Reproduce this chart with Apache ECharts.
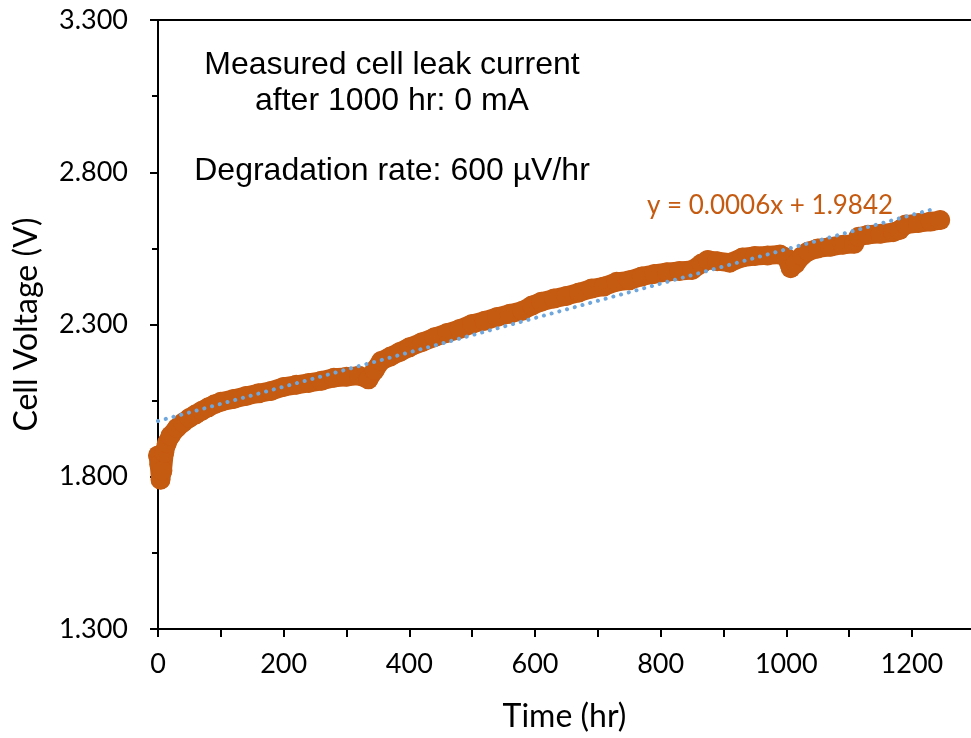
<!DOCTYPE html>
<html>
<head>
<meta charset="utf-8">
<script src="https://cdn.jsdelivr.net/npm/echarts@6/dist/echarts.min.js"></script>
<style>
  html, body { margin: 0; padding: 0; background: #fff; }
  #chart { width: 971px; height: 738px; }
</style>
</head>
<body>
<div id="chart"></div>
<script>
// time (hr) and cell voltage (V)
const timeHr = [0, 2, 4, 7, 10, 14, 20, 30, 40, 50, 60, 70, 80, 90, 100, 120, 140, 160, 180, 200,
  220, 240, 260, 280, 300, 320, 335, 345, 355, 370, 385, 400, 420, 440, 460, 480, 500, 520, 540, 560,
  580, 595, 610, 630, 650, 670, 690, 710, 730, 750, 770, 790, 810, 830, 850, 865, 875, 890, 910, 930,
  950, 970, 990, 1000, 1007, 1015, 1025, 1035, 1050, 1070, 1090, 1108, 1115, 1130, 1150, 1170, 1180,
  1190, 1210, 1230, 1245];
const cellVolt = [1.87, 1.84, 1.79, 1.82, 1.88, 1.91, 1.935, 1.96, 1.978, 1.993, 2.005, 2.017, 2.028, 2.038, 2.046, 2.055, 2.065, 2.074, 2.082, 2.095,
  2.102, 2.108, 2.115, 2.125, 2.128, 2.132, 2.12, 2.15, 2.18, 2.195, 2.21, 2.225, 2.242, 2.258, 2.272, 2.285, 2.302, 2.312, 2.325, 2.335,
  2.345, 2.362, 2.375, 2.385, 2.394, 2.405, 2.418, 2.425, 2.44, 2.445, 2.458, 2.466, 2.472, 2.476, 2.479, 2.50, 2.512, 2.508, 2.503, 2.52,
  2.525, 2.527, 2.53, 2.52, 2.485, 2.50, 2.525, 2.54, 2.55, 2.555, 2.562, 2.565, 2.588, 2.595, 2.598, 2.603, 2.61,
  2.628, 2.633, 2.638, 2.643];

// linear trendline end points
const trendX = [0, 1234];
const trendY = [1.983, 2.679];

const yTicks = [1.3, 3.3];
const xRange = [0, 1294];

const notes = ['Measured cell leak current', 'after 1000 hr: 0 mA', 'Degradation rate: 600 \u00b5V/hr'];
const equation = 'y = 0.0006x + 1.9842';

const orange = '#C55A11';
const blue = '#6FA6DC';
const tickFont = 'Lato';

const chart = echarts.init(document.getElementById('chart'));

const option = {
  backgroundColor: '#fff',
  animation: false,
  grid: { left: 158, right: 0, top: 20, bottom: 109 },
  xAxis: [
    {
      type: 'value',
      min: xRange[0],
      max: xRange[1],
      interval: 100,
      name: 'Time (hr)',
      nameLocation: 'middle',
      nameGap: 72,
      nameTextStyle: { fontFamily: tickFont, fontSize: 32, color: '#000' },
      axisLine: { onZero: false, lineStyle: { color: '#000', width: 2 } },
      axisTick: { length: 8, lineStyle: { color: '#000', width: 2 } },
      axisLabel: {
        margin: 22,
        fontFamily: tickFont,
        fontSize: 27,
        color: '#000',
        showMaxLabel: false,
        formatter: v => (v % 200 === 0 && v <= 1200 ? String(v) : '')
      },
      splitLine: { show: false }
    },
    {
      type: 'value',
      position: 'top',
      min: xRange[0],
      max: xRange[1],
      axisLine: { show: true, onZero: false, lineStyle: { color: '#000', width: 2 } },
      axisTick: { show: false },
      axisLabel: { show: false },
      splitLine: { show: false }
    }
  ],
  yAxis: {
    type: 'value',
    min: yTicks[0],
    max: yTicks[1],
    interval: 0.5,
    name: 'Cell Voltage (V)',
    nameLocation: 'middle',
    nameGap: 115,
    nameTextStyle: { fontFamily: tickFont, fontSize: 32, color: '#000' },
    axisLine: { show: true, lineStyle: { color: '#000', width: 2 } },
    axisTick: { length: 8, lineStyle: { color: '#000', width: 2 } },
    minorTick: { show: true, splitNumber: 2, length: 6, lineStyle: { color: '#000', width: 2 } },
    axisLabel: {
      margin: 30,
      fontFamily: tickFont,
      fontSize: 27,
      color: '#000',
      formatter: v => v.toFixed(3)
    },
    splitLine: { show: false }
  },
  series: [
    {
      type: 'line',
      xAxisIndex: 0,
      data: timeHr.map((t, i) => [t, cellVolt[i]]),
      symbol: 'circle',
      symbolSize: 20,
      showSymbol: true,
      itemStyle: { color: orange },
      lineStyle: { color: orange, width: 19, cap: 'round', join: 'round' },
      z: 2
    },
    {
      type: 'line',
      xAxisIndex: 0,
      data: trendX.map((t, i) => [t, trendY[i]]),
      symbol: 'none',
      lineStyle: { color: blue, width: 4, type: [0.1, 7.9], cap: 'round' },
      z: 3
    }
  ],
  graphic: [
    ...notes.map((txt, i) => ({
      type: 'text',
      x: 392,
      y: [65, 101, 171][i],
      style: {
        text: txt,
        align: 'center',
        verticalAlign: 'middle',
        fontFamily: 'Liberation Sans',
        fontSize: 32,
        fill: '#000'
      }
    })),
    {
      type: 'text',
      x: 770,
      y: 206,
      style: {
        text: equation,
        align: 'center',
        verticalAlign: 'middle',
        fontFamily: tickFont,
        fontSize: 26,
        fill: orange
      }
    }
  ]
};

chart.setOption(option);
window.addEventListener('resize', () => chart.resize());
</script>
</body>
</html>
